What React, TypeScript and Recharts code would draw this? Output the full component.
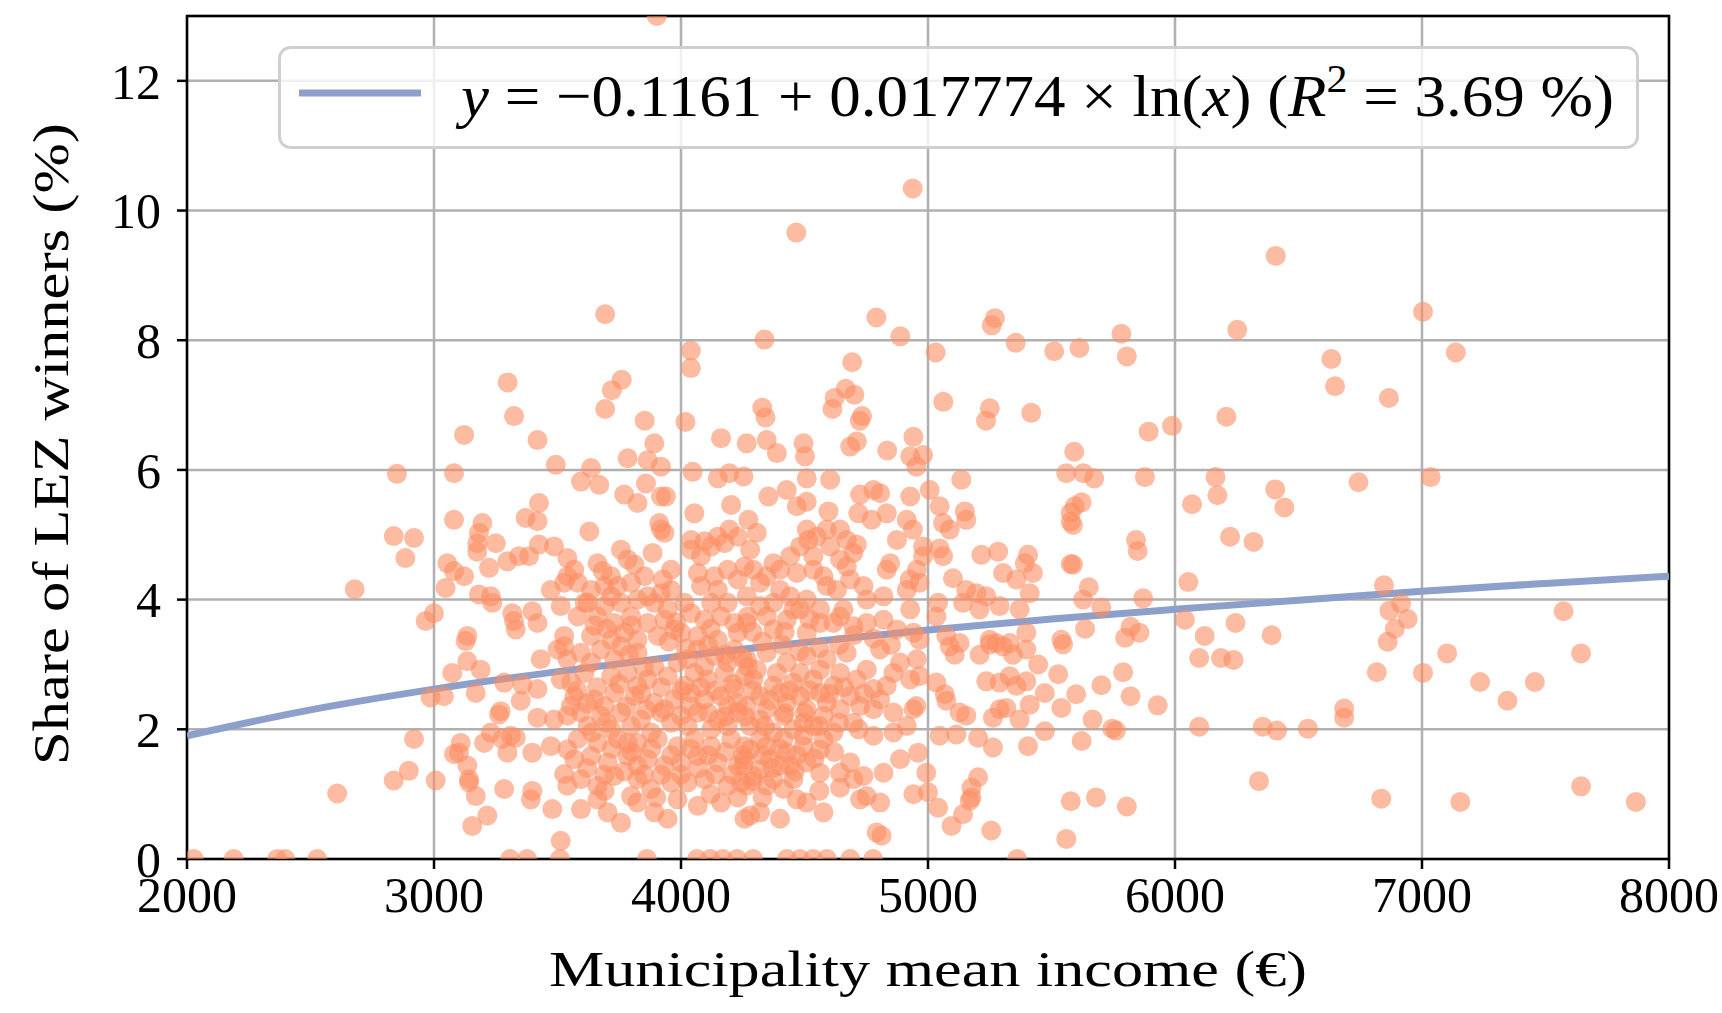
import React from "react";
import {
  ComposedChart,
  Scatter,
  Line,
  XAxis,
  YAxis,
  CartesianGrid,
  Legend,
  ReferenceArea,
  Label,
} from "recharts";

type Pt = [number, number];

// municipalities with no LEZ winners (sitting on the x axis)
const zeroShare: Pt[] = [
  [2027, 0], [2189, 0], [2365, 0], [2398, 0], [2527, 0], [3308, 0], [3377, 0],
  [3510, 0], [3862, 0], [4065, 0], [4118, 0], [4170, 0], [4227, 0], [4292, 0],
  [4429, 0], [4482, 0], [4535, 0], [4591, 0], [4685, 0], [4778, 0], [5361, 0],
];

const lowIncome: Pt[] = [
  [2850, 5.94], [2837, 4.98], [2884, 4.64], [2679, 4.16], [2898, 1.36], [2837, 1.21], [2608, 1.01],
];

const highShare: Pt[] = [
  [3902, 13.0], [4467, 9.66], [4938, 10.34], [6408, 9.3], [3693, 8.4], [4040, 7.84], [4040, 7.57],
  [4338, 8.01], [4791, 8.35], [4888, 8.06], [5271, 8.34], [5258, 8.23], [5031, 7.81], [5355, 7.96],
  [5511, 7.83], [5613, 7.88], [6866, 7.11], [5062, 7.05], [5418, 6.88], [4693, 7.66], [4667, 7.25],
  [4702, 7.16], [4622, 7.11], [4613, 6.94], [4733, 6.83], [4724, 6.76], [3760, 7.39], [3720, 7.23],
  [3693, 6.94], [3298, 7.35], [3324, 6.83], [3853, 6.76], [4018, 6.74], [4329, 6.96], [4342, 6.81],
  [4835, 6.3], [5250, 6.95], [5235, 6.76], [7004, 8.44], [7137, 7.81],
];

const band3000Upper: Pt[] = [
  [3122, 6.54], [3419, 6.46], [3493, 6.08], [3081, 5.95], [3425, 5.49], [3371, 5.26], [3419, 5.21],
  [3081, 5.23], [3196, 5.18], [3182, 5.03], [3175, 4.87], [3175, 4.74], [3250, 4.87], [2919, 4.95],
  [3054, 4.56], [3081, 4.44], [3122, 4.36], [3223, 4.49], [3297, 4.59], [3344, 4.67], [3385, 4.67],
  [3425, 4.85], [3486, 4.82], [3540, 4.64], [3047, 4.18], [3182, 4.08], [3230, 4.05], [3236, 3.95],
  [3317, 3.79], [3324, 3.67], [3331, 3.54], [3398, 3.82], [3419, 3.64], [3473, 4.15], [3527, 4.26],
  [3540, 4.36], [3513, 3.9], [2966, 3.67], [3000, 3.79], [3135, 3.44], [3527, 3.44], [3527, 3.28],
];

const band3000Lower: Pt[] = [
  [3128, 3.36], [3135, 3.05], [3189, 2.92], [3074, 2.87], [2986, 2.49], [3040, 2.51], [3169, 2.56],
  [3284, 2.72], [3358, 2.69], [3419, 2.62], [3351, 2.44], [3270, 2.28], [3263, 2.23], [3419, 2.18],
  [3486, 2.15], [3540, 2.21], [3554, 2.36], [3513, 2.77], [3540, 3.08], [3432, 3.08], [3500, 3.23],
  [2919, 1.85], [3108, 1.79], [3081, 1.62], [3101, 1.64], [3135, 1.44], [3142, 1.23], [3203, 1.79],
  [3230, 1.95], [3277, 1.85], [3311, 1.9], [3297, 1.64], [3331, 1.87], [3398, 1.64], [3473, 1.74],
  [3540, 1.69], [3007, 1.21], [3142, 1.18], [3169, 0.97], [3284, 1.08], [3392, 0.92], [3398, 1.05],
  [3479, 0.77], [3527, 1.31], [3540, 1.13], [3216, 0.67], [3155, 0.51], [3513, 0.28],
];

const band4000Upper: Pt[] = [
  [3892, 6.41], [4162, 6.49], [3784, 6.18], [3865, 6.15], [3919, 6.05], [3636, 6.03], [3595, 5.82],
  [3669, 5.77], [4047, 5.97], [4149, 5.87], [4196, 5.95], [3858, 5.79], [3770, 5.62], [3824, 5.49],
  [3919, 5.59], [3939, 5.59], [4054, 5.33], [4203, 5.46], [3912, 5.18], [3919, 5.08], [3933, 5.03],
  [3629, 5.05], [4196, 5.08], [4149, 4.97], [4095, 4.9], [4041, 4.92], [3757, 4.77], [3885, 4.72],
  [3568, 4.46], [3662, 4.56], [3683, 4.44], [3784, 4.62], [3811, 4.54], [3852, 4.36], [3926, 4.31],
  [4041, 4.77], [4081, 4.67], [4122, 4.82], [4176, 4.87], [4230, 4.97], [4068, 4.41], [4135, 4.36],
  [4189, 4.46], [4257, 4.51], [4081, 4.21], [4149, 4.15], [4230, 4.31], [3582, 4.26], [3636, 4.15],
  [3690, 4.21], [3744, 4.21], [3798, 4.26], [3865, 4.05], [3919, 4.1], [3960, 4.15], [3622, 3.95],
  [3690, 3.9], [3757, 3.95], [3824, 4.0], [3892, 3.95], [3946, 3.85], [3582, 3.74], [3662, 3.74],
  [3730, 3.64], [3798, 3.74], [3865, 3.64], [3933, 3.69], [3973, 3.54], [4041, 3.79], [4095, 3.69],
  [4162, 3.74], [4216, 3.64], [4270, 3.74], [3636, 3.44], [3717, 3.38], [3824, 3.38], [3906, 3.44],
  [4068, 3.44], [4149, 3.38], [4230, 3.49], [3717, 4.05], [4014, 3.95], [4122, 3.95], [4189, 3.95],
  [3771, 3.49], [4000, 3.49], [3960, 4.46], [3717, 4.36],
];

const band4000Lower: Pt[] = [
  [3595, 3.18], [3676, 3.23], [3757, 3.28], [3824, 3.18], [4068, 3.23], [4135, 3.13], [4216, 3.23],
  [3609, 2.87], [3717, 2.82], [3784, 2.87], [3865, 2.77], [3946, 2.82], [4054, 2.87], [4108, 2.77],
  [4176, 2.87], [4257, 2.82], [3568, 2.51], [3649, 2.46], [3730, 2.56], [3811, 2.51], [3892, 2.41],
  [3973, 2.46], [4041, 2.56], [4095, 2.46], [4162, 2.51], [4230, 2.41], [3595, 2.26], [3676, 2.21],
  [3757, 2.26], [3838, 2.15], [3919, 2.26], [4000, 2.21], [4068, 2.26], [4149, 2.15], [4230, 2.26],
  [3582, 1.85], [3662, 1.79], [3744, 1.85], [3824, 1.79], [3906, 1.85], [4054, 1.85], [4122, 1.74],
  [4203, 1.85], [4257, 1.74], [3636, 1.59], [3703, 1.49], [3784, 1.59], [3865, 1.54], [3933, 1.44],
  [4068, 1.59], [4149, 1.49], [4230, 1.44], [3595, 1.23], [3662, 1.13], [3824, 1.23], [3879, 1.08],
  [3960, 1.18], [4095, 1.23], [4189, 1.13], [3595, 0.77], [3703, 0.72], [3757, 0.56], [3824, 0.87],
  [3892, 0.72], [3946, 0.62], [4068, 0.82], [4257, 0.62], [3636, 3.03], [3730, 3.08], [3892, 2.97],
  [3986, 3.03], [4027, 3.08], [4095, 2.97], [4189, 3.03], [4270, 2.97], [3555, 2.72], [3824, 2.67],
  [4014, 2.67], [4216, 2.62], [3690, 2.36], [3933, 2.31], [4189, 2.36], [3622, 2.05], [3717, 2.0],
  [3798, 2.05], [3879, 1.95], [4027, 2.05], [4122, 2.0], [4189, 2.05], [3784, 1.79], [3986, 1.74],
  [3568, 1.54], [3824, 1.44], [4000, 1.49], [4257, 1.54], [3730, 1.28], [4027, 1.18], [4243, 1.18],
  [3662, 0.92], [3798, 0.97], [3986, 0.92], [4162, 0.87],
];

const band4500Upper: Pt[] = [
  [4266, 6.41], [4347, 6.46], [4388, 6.26], [4496, 6.41], [4502, 6.21], [4685, 6.36], [4712, 6.44],
  [4941, 6.51], [4928, 6.21], [4253, 5.9], [4509, 5.87], [4604, 5.85], [4354, 5.59], [4428, 5.69],
  [4469, 5.44], [4509, 5.51], [4597, 5.36], [4725, 5.62], [4779, 5.69], [4806, 5.64], [4718, 5.33],
  [4772, 5.23], [4833, 5.33], [4914, 5.23], [4928, 5.59], [4273, 5.23], [4307, 5.03], [4280, 4.77],
  [4509, 5.08], [4550, 4.97], [4516, 4.92], [4590, 5.08], [4644, 5.08], [4671, 4.92], [4712, 4.85],
  [4698, 4.72], [4482, 4.82], [4442, 4.67], [4536, 4.67], [4604, 4.82], [4644, 4.62], [4671, 4.51],
  [4874, 4.92], [4847, 4.56], [4833, 4.46], [4955, 4.46], [4293, 4.46], [4347, 4.36], [4320, 4.26],
  [4401, 4.46], [4469, 4.41], [4536, 4.46], [4577, 4.36], [4266, 4.05], [4320, 3.9], [4374, 3.95],
  [4442, 4.05], [4509, 4.0], [4482, 3.85], [4563, 3.85], [4631, 4.15], [4658, 3.85], [4739, 4.21],
  [4752, 4.0], [4820, 4.05], [4914, 4.15], [4928, 3.85], [4266, 3.64], [4374, 3.54], [4428, 3.69],
  [4509, 3.49], [4617, 3.64], [4698, 3.59], [4752, 3.64], [4820, 3.69], [4874, 3.54], [4941, 3.49],
  [4347, 3.74], [4455, 3.85], [4563, 3.64], [4644, 3.74], [4401, 4.15], [4590, 4.21], [4685, 4.31],
  [4374, 4.56],
];

const band4500Lower: Pt[] = [
  [4266, 3.08], [4347, 3.18], [4428, 3.03], [4509, 3.13], [4590, 3.08], [4671, 3.18], [4806, 3.23],
  [4887, 3.03], [4955, 3.08], [4293, 2.77], [4374, 2.67], [4455, 2.72], [4536, 2.77], [4617, 2.67],
  [4712, 2.77], [4779, 2.62], [4833, 2.67], [4928, 2.77], [4266, 2.36], [4347, 2.31], [4428, 2.41],
  [4509, 2.31], [4590, 2.41], [4644, 2.31], [4725, 2.36], [4779, 2.31], [4860, 2.26], [4941, 2.31],
  [4280, 2.05], [4374, 1.95], [4455, 2.0], [4536, 2.05], [4617, 1.95], [4779, 1.9], [4860, 1.95],
  [4914, 2.05], [4280, 1.69], [4347, 1.74], [4428, 1.64], [4496, 1.74], [4563, 1.69], [4253, 1.44],
  [4320, 1.38], [4401, 1.44], [4455, 1.23], [4266, 1.13], [4347, 1.13], [4374, 1.23], [4685, 1.49],
  [4644, 1.33], [4698, 1.23], [4739, 1.28], [4644, 1.1], [4820, 1.33], [4887, 1.54], [4752, 0.97],
  [4806, 0.87], [4725, 0.92], [4941, 1.0], [4469, 0.92], [4509, 0.87], [4280, 0.67], [4320, 0.72],
  [4401, 0.62], [4577, 0.72], [4792, 0.41], [4812, 0.36], [4307, 2.92], [4388, 2.87], [4482, 2.87],
  [4563, 2.92], [4644, 2.87], [4752, 2.92], [4860, 2.87], [4320, 2.51], [4401, 2.56], [4482, 2.51],
  [4563, 2.56], [4685, 2.51], [4806, 2.46], [4320, 2.15], [4415, 2.21], [4496, 2.1], [4577, 2.21],
  [4698, 2.1], [4496, 1.9], [4320, 1.85], [4415, 1.85], [4577, 1.85], [4361, 1.54], [4442, 1.44],
  [4509, 1.49], [4293, 1.28], [4415, 1.08], [4563, 1.33],
];

// the thickest part of the cloud, where discs overlap most
const denseCore: Pt[] = [
  [3610, 3.95], [3700, 3.55], [3790, 3.15], [3850, 2.95], [3950, 3.35], [4020, 3.25], [4110, 3.3],
  [4180, 3.15], [4250, 3.1], [4330, 3.35], [4410, 3.3], [4480, 3.2], [4560, 3.25], [4640, 3.3],
  [3580, 2.6], [3660, 2.65], [3750, 2.7], [3840, 2.55], [3920, 2.65], [4000, 2.6], [4080, 2.65],
  [4140, 2.6], [4210, 2.7], [4290, 2.6], [4360, 2.45], [4440, 2.6], [4520, 2.6], [4600, 2.55],
  [4660, 2.65], [4740, 2.55], [3620, 2.4], [3700, 2.1], [3780, 2.35], [3860, 2.3], [3960, 2.1],
  [4040, 2.35], [4110, 2.25], [4180, 2.2], [4260, 2.2], [4340, 2.05], [4420, 2.25], [4500, 2.25],
  [4560, 2.05], [4640, 2.1], [4720, 2.0], [3640, 1.95], [3720, 1.7], [3800, 1.65], [3880, 1.7],
  [3960, 1.6], [4040, 1.7], [4110, 1.6], [4180, 1.65], [4250, 1.6], [4330, 1.6], [4400, 1.7],
  [4470, 1.6], [4540, 1.55], [4620, 1.65], [3620, 1.4], [3690, 1.3], [3770, 1.35], [3850, 1.3],
  [3920, 1.3], [4000, 1.3], [4070, 1.4], [4140, 1.3], [4210, 1.3], [4290, 1.2], [4370, 1.4],
  [4460, 1.35], [3650, 3.6], [3800, 3.6], [3980, 3.65], [4120, 3.55], [4290, 3.5], [4420, 3.5],
  [4520, 3.7], [4700, 3.45], [4780, 3.4], [4850, 3.3], [3690, 1.05], [3900, 0.95], [4120, 1.0],
  [4230, 0.95], [4330, 0.95], [4560, 1.05],
];

const band5000Upper: Pt[] = [
  [5560, 5.95], [5135, 5.85], [4980, 6.23], [4953, 6.05], [5007, 5.69], [5047, 5.44], [5061, 5.18],
  [5088, 5.08], [5149, 5.36], [5155, 5.23], [4939, 5.08], [5594, 5.44], [5587, 5.15], [5587, 4.54],
  [5216, 4.69], [5284, 4.74], [5405, 4.69], [5392, 4.56], [5425, 4.41], [5304, 4.41], [5358, 4.31],
  [5412, 4.1], [4980, 4.82], [5047, 4.79], [5061, 4.67], [4980, 4.67], [4926, 4.31], [4966, 4.26],
  [5101, 4.33], [5155, 4.15], [5196, 4.1], [5236, 4.05], [5142, 3.95], [5209, 3.85], [5290, 3.9],
  [5371, 3.85], [5041, 3.95], [5034, 3.74], [5628, 4.0], [5074, 3.44], [5128, 3.33], [5250, 3.38],
  [5277, 3.33], [5331, 3.33], [5398, 3.49], [5540, 3.38], [4966, 3.38],
];

const band5000Lower: Pt[] = [
  [5088, 3.28], [5108, 3.15], [5209, 3.15], [5250, 3.31], [5304, 3.28], [5344, 3.15], [5398, 3.23],
  [5446, 3.0], [5547, 3.31], [5236, 2.74], [5290, 2.72], [5358, 2.67], [5398, 2.74], [5331, 2.82],
  [5527, 2.85], [5473, 2.56], [5412, 2.38], [5540, 2.33], [4966, 2.82], [5034, 2.72], [5068, 2.54],
  [5074, 2.44], [5128, 2.26], [5155, 2.21], [5290, 2.31], [5317, 2.33], [5263, 2.18], [5371, 2.15],
  [4953, 2.36], [5047, 1.9], [5115, 1.92], [5203, 1.87], [5263, 1.72], [5405, 1.74], [5473, 1.97],
  [4960, 1.64], [4993, 1.33], [5000, 1.03], [5041, 0.79], [5203, 1.26], [5176, 1.1], [5176, 0.95],
  [5169, 0.9], [5142, 0.69], [5095, 0.51], [5256, 0.44], [5560, 0.31],
];

const band6000: Pt[] = [
  [5783, 8.1], [5805, 7.75], [6252, 8.16], [6633, 7.71], [6648, 7.29], [5893, 6.59], [5988, 6.68],
  [6208, 6.82], [5592, 6.28], [5629, 5.95], [5673, 5.87], [5878, 5.89], [6164, 5.89], [6172, 5.61],
  [6406, 5.7], [6443, 5.42], [6743, 5.81], [6069, 5.47], [5622, 5.5], [5578, 5.34], [5578, 5.2],
  [5842, 4.92], [5849, 4.75], [6223, 4.97], [6318, 4.89], [5578, 4.55], [6054, 4.27], [5651, 4.19],
  [5871, 4.02], [5702, 3.88], [6846, 4.22], [6040, 3.69], [6245, 3.64], [5636, 3.55], [5820, 3.58],
  [5856, 3.49], [5798, 3.41], [6120, 3.44], [6391, 3.45], [6868, 3.83], [6890, 3.55], [6861, 3.35],
  [6098, 3.1], [6186, 3.1], [6237, 3.07], [6817, 2.88], [5790, 2.88], [5702, 2.68], [5600, 2.54],
  [5820, 2.51], [5930, 2.37], [5666, 2.15], [5746, 2.01], [5761, 1.98], [5622, 1.82], [6098, 2.04],
  [6355, 2.04], [6413, 1.98], [6538, 2.01], [6685, 2.32], [6685, 2.18], [6340, 1.2], [5578, 0.89],
  [5680, 0.95], [5805, 0.81],
];

const highIncome: Pt[] = [
  [7035, 5.89], [6915, 3.94], [6942, 3.7], [7004, 2.87], [7102, 3.17], [7235, 2.73], [7346, 2.44],
  [7457, 2.73], [7573, 3.82], [7644, 3.17], [6835, 0.93], [7155, 0.88], [7644, 1.12], [7866, 0.88],
];

// fitted curve y = -0.1161 + 0.017774 ln(x), read at every 500 €
const fitIncome = [2000, 2500, 3000, 3500, 4000, 4500, 5000, 5500, 6000, 6500, 7000, 7500, 8000];
const fitShare = [1.9, 2.3, 2.62, 2.89, 3.13, 3.34, 3.53, 3.7, 3.85, 3.99, 4.13, 4.25, 4.36];

const xTicks = [2000, 3000, 4000, 5000, 6000, 7000, 8000];
const yTicks = [0, 2, 4, 6, 8, 10, 12];

const FONT = "'Liberation Serif', 'DejaVu Serif', serif";
const ORANGE = "#fc8d62";
const BLUE = "#8da0cb";

const points = [
  ...zeroShare, ...lowIncome, ...highShare, ...band3000Upper, ...band3000Lower,
  ...band4000Upper, ...band4000Lower, ...band4500Upper, ...band4500Lower, ...denseCore,
  ...band5000Upper, ...band5000Lower, ...band6000, ...highIncome,
].map(([income, share]) => ({ income, share }));

const fit = fitIncome.map((income, i) => ({ income, share: fitShare[i] }));

const Dot = (props: any) => (
  <circle cx={props.cx} cy={props.cy} r={10} fill={ORANGE} fillOpacity={0.6} />
);

const FitLegend = () => (
  <svg width={1361} height={103} style={{ display: "block", overflow: "visible" }}>
    <rect x={1.5} y={1.5} width={1358} height={100} rx={11} fill="rgba(255,255,255,0.8)" stroke="#cfcfcf" strokeWidth={3} />
    <line x1={21} x2={143} y1={47} y2={47} stroke={BLUE} strokeWidth={7} />
    <text x={183} y={70} fontSize={60} fontFamily={FONT} fill="#000" textLength={1153} lengthAdjust="spacingAndGlyphs">
      <tspan fontStyle="italic">y</tspan> = −0.1161 + 0.017774 × ln(<tspan fontStyle="italic">x</tspan>) (<tspan fontStyle="italic">R</tspan>
      <tspan fontSize={40} dy={-24}>2</tspan>
      <tspan dy={24}> = 3.69 %)</tspan>
    </text>
  </svg>
);

const XTitle = (props: any) => {
  const vb = props.viewBox;
  return (
    <text x={vb.x + vb.width / 2} y={986} textAnchor="middle" fontSize={50} fontFamily={FONT} fill="#000" textLength={758} lengthAdjust="spacingAndGlyphs">
      Municipality mean income (€)
    </text>
  );
};

const YTitle = () => {
  const cx = 68;
  const cy = 444;
  return (
    <text x={cx} y={cy} transform={`rotate(-90 ${cx} ${cy})`} textAnchor="middle" fontSize={50} fontFamily={FONT} fill="#000" textLength={642} lengthAdjust="spacingAndGlyphs">
      Share of LEZ winners (%)
    </text>
  );
};

export default function App() {
  const tickStyle = { fill: "#000", fontSize: 50, fontFamily: FONT };
  return (
    <div style={{ position: "absolute", left: 0, top: 0, width: 1722, height: 1013, background: "#fff" }}>
      <ComposedChart width={1722} height={1013} margin={{ top: 16, right: 53, bottom: 104, left: 87 }}>
        <CartesianGrid stroke="#b0b0b0" strokeWidth={2.5} />
        <XAxis
          type="number"
          dataKey="income"
          domain={[2000, 8000]}
          ticks={xTicks}
          height={50}
          axisLine={false}
          tickLine={{ stroke: "#000", strokeWidth: 2.5 }}
          tickSize={10}
          tickMargin={7}
          tick={tickStyle}
          allowDataOverflow
        >
          <Label content={XTitle} />
        </XAxis>
        <YAxis
          type="number"
          dataKey="share"
          domain={[0, 13]}
          ticks={yTicks}
          width={100}
          axisLine={false}
          tickLine={{ stroke: "#000", strokeWidth: 2.5 }}
          tickSize={10}
          tickMargin={16}
          tick={tickStyle}
          allowDataOverflow
        >
          <Label content={YTitle} />
        </YAxis>
        <Scatter data={points} shape={Dot} legendType="none" isAnimationActive={false} />
        <Line
          data={fit}
          dataKey="share"
          type="monotone"
          stroke={BLUE}
          strokeWidth={7}
          dot={false}
          activeDot={false}
          isAnimationActive={false}
        />
        <ReferenceArea x1={2000} x2={8000} y1={0} y2={13} fill="none" stroke="#000" strokeWidth={2.5} />
        <Legend
          content={<FitLegend />}
          layout="horizontal"
          verticalAlign="middle"
          align="center"
          wrapperStyle={{ left: 278, top: 46, width: 1361, height: 103 }}
        />
      </ComposedChart>
    </div>
  );
}
